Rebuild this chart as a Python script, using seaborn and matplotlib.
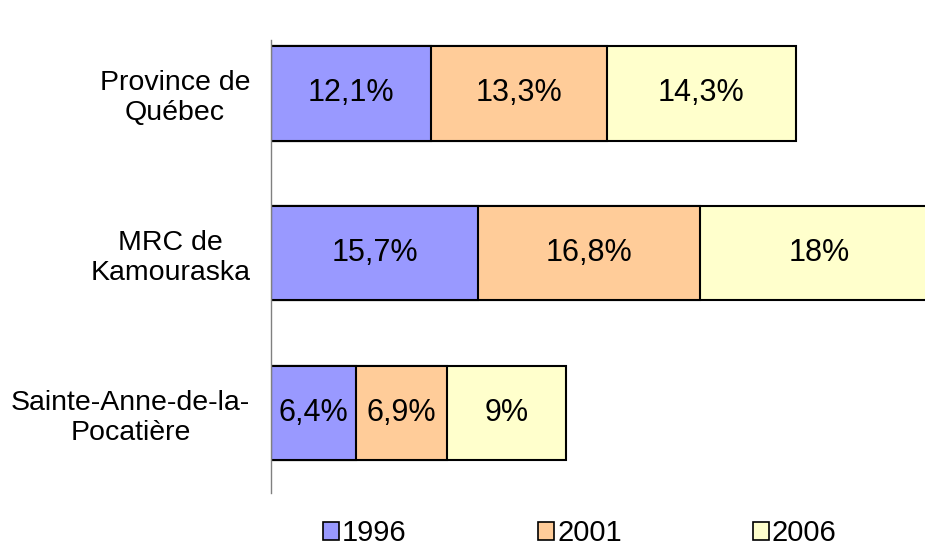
import numpy as np
import pandas as pd
import matplotlib
matplotlib.use("Agg")
import matplotlib.pyplot as plt
import seaborn as sns
from matplotlib.patches import Patch

# Data
places = ["Province de\nQuébec", "MRC de\nKamouraska", "Sainte-Anne-de-la-\nPocatière"]
years = ["1996", "2001", "2006"]
v1996 = [12.1, 15.7, 6.4]
v2001 = [13.3, 16.8, 6.9]
v2006 = [14.3, 18.0, 9.0]
labels1996 = ["12,1%", "15,7%", "6,4%"]
labels2001 = ["13,3%", "16,8%", "6,9%"]
labels2006 = ["14,3%", "18%", "9%"]
colors = ["#9999FF", "#FFCC99", "#FFFFCC"]

sns.set_theme(style="white")
plt.rcParams["font.family"] = ["Liberation Sans", "DejaVu Sans"]
plt.rcParams["text.color"] = "black"
plt.rcParams["ytick.color"] = "black"

df = pd.DataFrame({"place": places, "1996": v1996, "2001": v2001, "2006": v2006})
cum = df[years].cumsum(axis=1)

fig = plt.figure(figsize=(9.25, 5.53), dpi=100)
ax = fig.add_axes([0.293, 0.1085, 0.707, 0.8192])

# stacked bars: draw the longest cumulative layer first
for yr, col in zip(years[::-1], colors[::-1]):
    sns.barplot(x=cum[yr], y=df["place"], orient="h", color=col, width=0.59,
                edgecolor="black", linewidth=1.5, ax=ax, saturation=1)

all_labels = [labels1996, labels2001, labels2006]
for j, yr in enumerate(years):
    left = cum[yr] - df[yr]
    for i in range(len(places)):
        ax.text(left[i] + df[yr][i] / 2, i, all_labels[j][i], ha="center",
                va="center", fontsize=22, color="black")

ax.set_xlim(0, 49.5)
ax.set_ylim(2.5, -0.334)
ax.set_xlabel("")
ax.set_ylabel("")
ax.set_xticks([])
for s in ["top", "right", "bottom"]:
    ax.spines[s].set_visible(False)
ax.spines["left"].set_color("#808080")
ax.spines["left"].set_linewidth(1)
ax.tick_params(axis="y", length=0, pad=15, labelsize=20.5, labelcolor="black")
for t in ax.get_yticklabels():
    t.set_multialignment("center")

handles = [Patch(facecolor=c, edgecolor="black", linewidth=1.2) for c in colors]
fig.legend(handles, years, loc="center", bbox_to_anchor=(0.627, 0.036), ncol=3,
           frameon=False, fontsize=21, handlelength=0.55, handleheight=0.55,
           handletextpad=0.1, columnspacing=4.5, borderpad=0)

fig.savefig("out.png", dpi=100)
